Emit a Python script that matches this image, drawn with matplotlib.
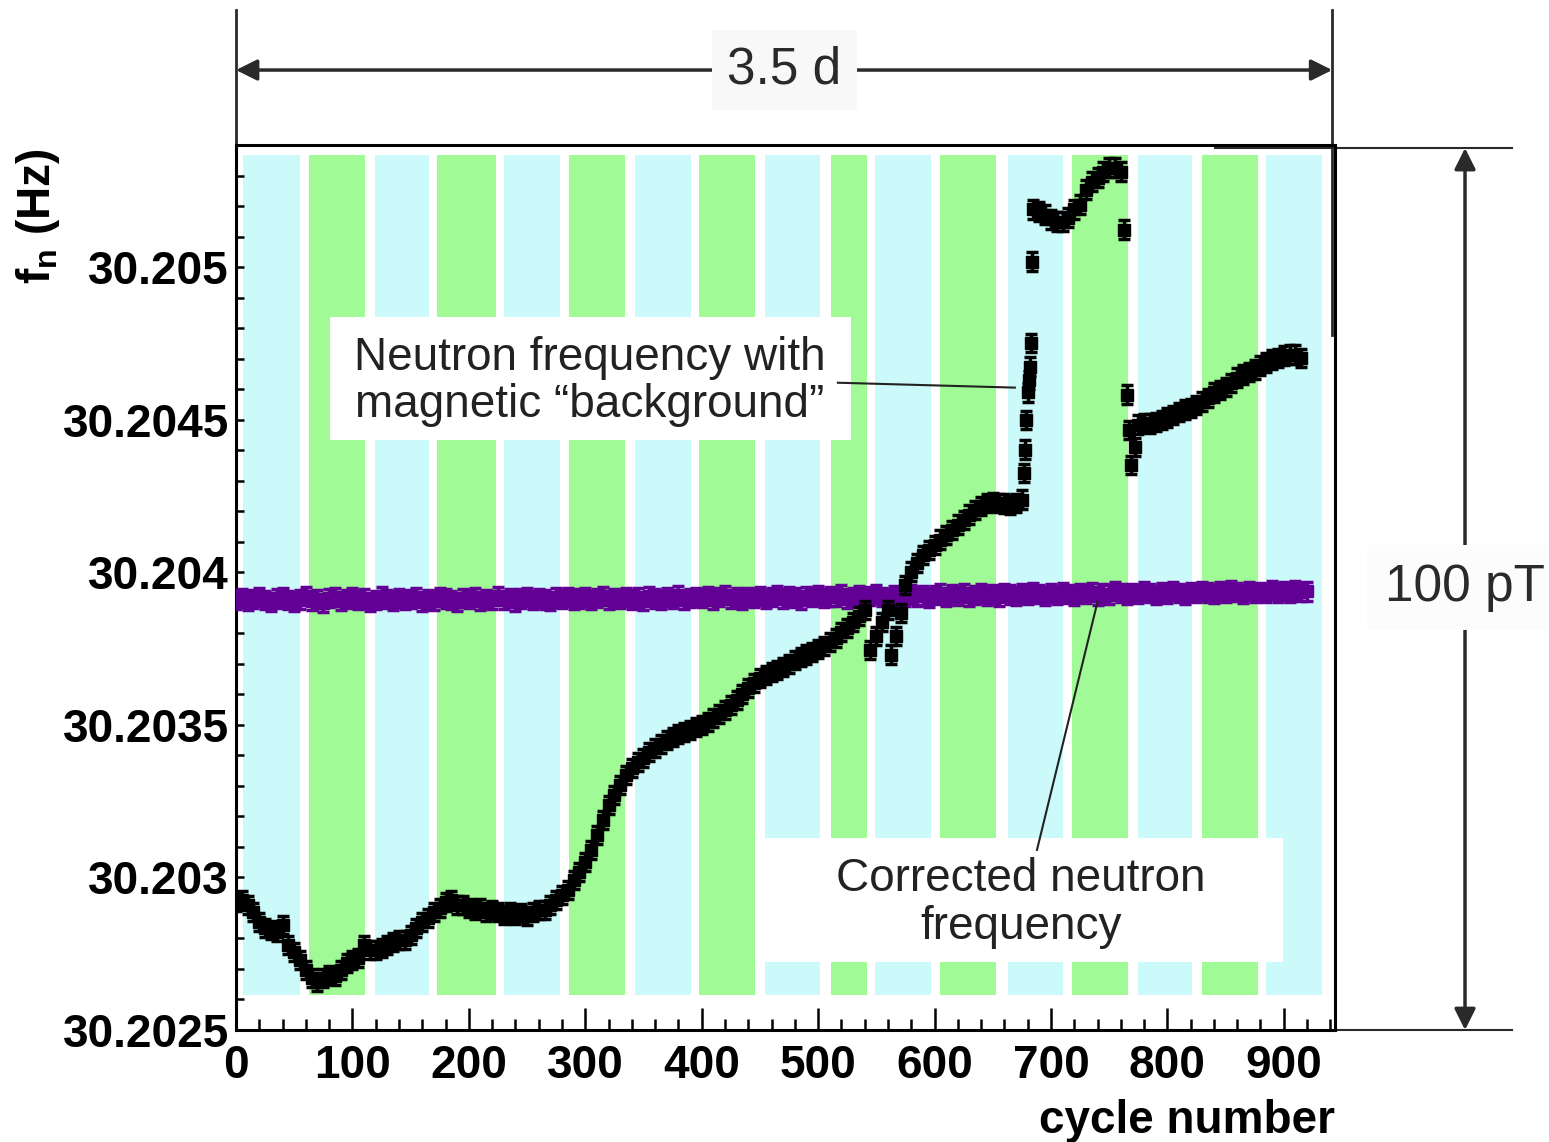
import numpy as np
import matplotlib
matplotlib.use("Agg")
import matplotlib.pyplot as plt
from matplotlib.patches import Rectangle
from matplotlib.ticker import MultipleLocator, FixedLocator, FixedFormatter

plt.rcParams['font.family'] = ['Liberation Sans', 'DejaVu Sans']
plt.rcParams['mathtext.fontset'] = 'custom'
plt.rcParams['mathtext.rm'] = 'Liberation Sans:bold'
plt.rcParams['mathtext.it'] = 'Liberation Sans:bold'

BASE = 30.2025  # Hz, values below are offsets in micro-Hz

# neutron frequency with magnetic background (black)
raw_cycle = [0, 5, 10, 15, 20, 25, 30, 35, 40, 45, 50, 55, 60, 65, 70, 75, 80, 85, 90, 95,
             100, 105, 110, 115, 120, 125, 130, 135, 140, 145, 150, 155, 160, 165, 170, 175, 180, 185, 190, 195,
             200, 205, 210, 215, 220, 225, 230, 235, 240, 245, 250, 255, 260, 265, 270, 275, 280, 285, 290, 295,
             300, 305, 310, 315, 320, 325, 330, 335, 340, 345, 350, 355, 360, 365, 370, 375, 380, 385, 390, 395,
             400, 405, 410, 415, 420, 425, 430, 435, 440, 445, 450, 455, 460, 465, 470, 475, 480, 485, 490, 495,
             500, 505, 510, 515, 520, 525, 530, 535, 540, 545, 550, 555, 560, 563, 567, 571, 575, 580, 585, 590,
             595, 600, 605, 610, 615, 620, 625, 630, 635, 640, 645, 650, 655, 660, 665, 670, 675,
             677, 678, 679, 680, 681, 682, 683, 684,
             685, 690, 695, 700, 705, 710, 715, 720, 725, 730, 735, 740, 745, 750, 755, 760, 763,
             765, 767, 769, 772, 775, 780, 785, 790, 795, 800, 805, 810, 815, 820, 825, 830, 835, 840, 845,
             850, 855, 860, 865, 870, 875, 880, 885, 890, 895, 900, 905, 910, 915]
raw_uhz = [420, 426, 410, 387, 354, 334, 328, 321, 344, 279, 256, 230, 197, 170, 157, 170, 180, 177, 197, 220,
           230, 236, 279, 262, 262, 269, 279, 289, 295, 295, 311, 334, 354, 367, 387, 400, 420, 426, 410, 410,
           400, 393, 400, 387, 393, 387, 377, 387, 377, 384, 374, 387, 393, 393, 410, 426, 443, 459, 492, 518,
           551, 590, 639, 689, 738, 770, 803, 836, 859, 879, 892, 911, 925, 938, 951, 961, 970, 977, 984, 993,
           1000, 1010, 1023, 1036, 1049, 1066, 1082, 1102, 1121, 1138, 1154, 1164, 1174, 1180, 1190, 1200, 1213, 1223, 1230, 1239,
           1249, 1259, 1272, 1285, 1305, 1318, 1338, 1357, 1377, 1246, 1292, 1338, 1377, 1230, 1292, 1367, 1459, 1502, 1531, 1557,
           1574, 1590, 1607, 1623, 1639, 1656, 1672, 1689, 1705, 1718, 1728, 1731, 1728, 1725, 1721, 1728, 1738,
           1826, 1902, 2000, 2089, 2131, 2174, 2252, 2518,
           2689, 2682, 2672, 2656, 2649, 2649, 2662, 2689, 2705, 2754, 2780, 2793, 2813, 2826, 2826, 2813, 2623,
           2082, 1967, 1852, 1911, 1984, 1990, 1987, 1993, 2000, 2007, 2016, 2026, 2033, 2039, 2049, 2059, 2072, 2089, 2098,
           2108, 2121, 2138, 2148, 2157, 2164, 2177, 2187, 2197, 2203, 2210, 2213, 2213, 2203]

# corrected neutron frequency (purple), every 5 cycles from 0 to 920
corr_cycle = list(range(0, 921, 5))
corr_uhz = [1410, 1416, 1405, 1412, 1420, 1408, 1402, 1414, 1418, 1409, 1404, 1411, 1422, 1407, 1413, 1400, 1415, 1419, 1406, 1412,
            1417, 1408, 1414, 1403, 1410, 1421, 1412, 1405, 1416, 1409, 1413, 1418, 1404, 1411, 1407, 1420, 1414, 1409, 1402, 1415,
            1412, 1418, 1406, 1413, 1409, 1422, 1410, 1416, 1404, 1414, 1419, 1408, 1415, 1411, 1405, 1417, 1413, 1420, 1409, 1414,
            1418, 1410, 1415, 1423, 1408, 1416, 1412, 1419, 1411, 1417, 1406, 1421, 1414, 1409, 1418, 1413, 1424, 1410, 1416, 1420,
            1415, 1422, 1411, 1418, 1425, 1413, 1419, 1409, 1420, 1416, 1423, 1412, 1418, 1426, 1414, 1421, 1417, 1410, 1422, 1419,
            1424, 1416, 1421, 1418, 1427, 1414, 1420, 1425, 1417, 1423, 1429, 1419, 1415, 1426, 1422, 1418, 1428, 1421, 1424, 1417,
            1425, 1430, 1420, 1427, 1423, 1431, 1419, 1426, 1432, 1424, 1428, 1421, 1433, 1427, 1422, 1430, 1425, 1434, 1428, 1423,
            1431, 1426, 1435, 1429, 1424, 1432, 1428, 1436, 1422, 1430, 1427, 1438, 1431, 1425, 1433, 1429, 1437, 1432, 1426, 1434,
            1430, 1438, 1433, 1427, 1436, 1431, 1439, 1434, 1428, 1437, 1432, 1440, 1435, 1429, 1438, 1433, 1436, 1431, 1441, 1434,
            1438, 1432, 1440, 1435, 1437]
err_uhz = 30

# background bands (cycle ranges)
cyan_bands = [(6, 55), (119, 166), (230, 278), (343, 391), (454, 502), (549, 597), (663, 710), (775, 821), (885, 933)]
green_bands = [(63, 111), (173, 223), (286, 334), (398, 446), (511, 542), (605, 653), (718, 766), (830, 878)]

ytick_vals = [30.2025, 30.203, 30.2035, 30.204, 30.2045, 30.205]
ytick_labels = ['30.2025', '30.203', '30.2035', '30.204', '30.2045', '30.205']

raw_y = BASE + np.array(raw_uhz) * 1e-6
corr_y = BASE + np.array(corr_uhz) * 1e-6

fig = plt.figure(figsize=(15.49, 11.42), dpi=100)
ax = fig.add_axes([0.15236, 0.09807, 0.70949, 0.77496])
ax.set_xlim(0, 944)
ax.set_ylim(30.2025, 30.2054)

for a, b in cyan_bands:
    ax.axvspan(a, b, ymin=0.0395, ymax=0.9887, color='#ccf9f9', lw=0, zorder=1)
for a, b in green_bands:
    ax.axvspan(a, b, ymin=0.0395, ymax=0.9887, color='#a0fa96', lw=0, zorder=1)

# white label boxes
ax.add_patch(Rectangle((80.8, 30.204434), 447.6, 0.000404, facecolor='white', edgecolor='none', zorder=2))
ax.add_patch(Rectangle((450.2, 30.202723), 449.3, 0.000407, facecolor='white', edgecolor='none', zorder=2))

ax.errorbar(corr_cycle, corr_y, yerr=err_uhz * 1e-6, fmt='s', ms=9, color='#620095',
            ecolor='#620095', elinewidth=2.5, capsize=4, capthick=2.5, zorder=3)
ax.errorbar(raw_cycle, raw_y, yerr=err_uhz * 1e-6, fmt='s', ms=9, color='black',
            ecolor='black', elinewidth=2.5, capsize=4, capthick=2.5, zorder=4)

txt_kw = dict(fontsize=33, color='#222222', ha='center', va='center', linespacing=1.1, zorder=5)
ax.text(304, 30.204625, 'Neutron frequency with\nmagnetic \u201cbackground\u201d', **txt_kw)
ax.text(674, 30.202916, 'Corrected neutron\nfrequency', **txt_kw)
ax.plot([517, 669], [30.204621, 30.204605], color='#222222', lw=1.5, zorder=5)
ax.plot([688, 740], [30.203090, 30.203903], color='#222222', lw=1.5, zorder=5)

# axes styling
ax.xaxis.set_major_locator(MultipleLocator(100))
ax.xaxis.set_minor_locator(MultipleLocator(20))
ax.yaxis.set_major_locator(FixedLocator(ytick_vals))
ax.yaxis.set_major_formatter(FixedFormatter(ytick_labels))
ax.yaxis.set_minor_locator(MultipleLocator(0.0001))
ax.tick_params(axis='x', which='major', direction='in', length=16, width=1.8, pad=10, labelsize=33)
ax.tick_params(axis='x', which='minor', direction='in', length=8, width=1.8)
ax.tick_params(axis='y', which='both', direction='in', length=6, width=1.8, pad=5, labelsize=33)
for lab in ax.get_xticklabels() + ax.get_yticklabels():
    lab.set_fontweight('bold')
for sp in ax.spines.values():
    sp.set_linewidth(2.2)

ax.set_xlabel('cycle number', fontsize=33, fontweight='bold', ha='right')
ax.xaxis.set_label_coords(1.0, -0.078)
ax.set_ylabel(r'f$_\mathrm{n}$ (Hz)', fontsize=33, fontweight='bold')
ax.yaxis.set_label_coords(-0.158, 0.92)

# 3.5 d span arrow above the axes
ann_c = '#2a2a2a'
tr_x = ax.get_xaxis_transform()
ax.plot([0, 0], [1.0, 1.152], transform=tr_x, color=ann_c, lw=2, clip_on=False)
ax.plot([941.6, 941.6], [0.785, 1.152], transform=tr_x, color=ann_c, lw=2, clip_on=False)
ax.annotate('', xy=(0, 1.0847), xytext=(941.6, 1.0847), xycoords=tr_x, textcoords=tr_x,
            arrowprops=dict(arrowstyle='<|-|>', color=ann_c, lw=2.5, mutation_scale=32,
                            shrinkA=0, shrinkB=0))
ax.text(470.8, 1.0847, '3.5 d', transform=tr_x, fontsize=37, color=ann_c, ha='center', va='center',
        bbox=dict(boxstyle='square,pad=0.3', facecolor='#f8f8f8', edgecolor='none'), zorder=6)

# 100 pT span arrow right of the axes
tr_y = ax.get_yaxis_transform()
ax.plot([0.891, 1.161], [30.20539, 30.20539], transform=tr_y, color=ann_c, lw=1.5, clip_on=False)
ax.plot([1.0, 1.161], [30.2025, 30.2025], transform=tr_y, color=ann_c, lw=1.5, clip_on=False)
ax.annotate('', xy=(1.1183, 30.2025), xytext=(1.1183, 30.20539), xycoords=tr_y, textcoords=tr_y,
            arrowprops=dict(arrowstyle='<|-|>', color=ann_c, lw=2.5, mutation_scale=32,
                            shrinkA=0, shrinkB=0))
ax.text(1.1183, 30.20395, '100 pT', transform=tr_y, fontsize=37, color=ann_c, ha='center', va='center',
        bbox=dict(boxstyle='square,pad=0.35', facecolor='#fcfcfc', edgecolor='none'), zorder=6)

fig.savefig('out.png', dpi=100)
